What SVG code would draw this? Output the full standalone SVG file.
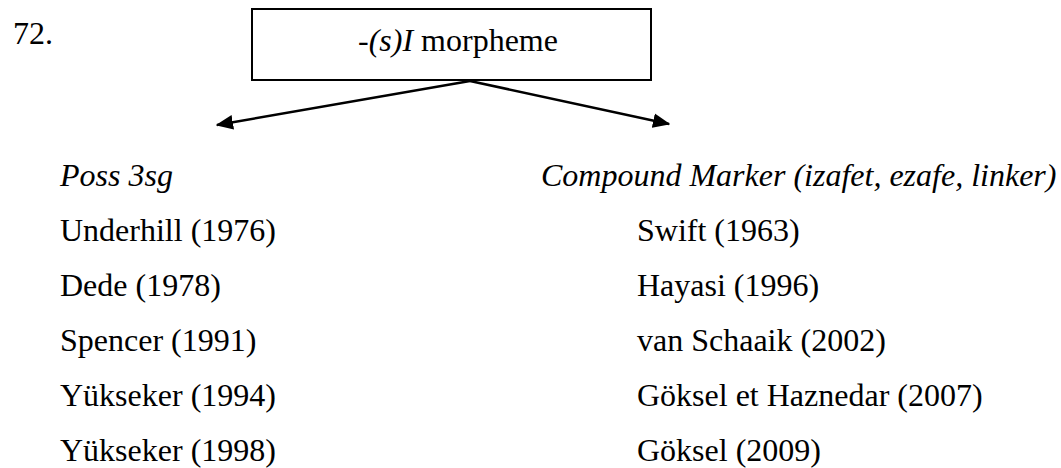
<svg xmlns="http://www.w3.org/2000/svg" width="1061" height="468" viewBox="0 0 1061 468">
  <style>
    text { font-family: "Liberation Serif", "Times New Roman", serif; font-size: 32px; fill: #000; }
    .it { font-style: italic; }
    .box { fill: #fff; stroke: #000; stroke-width: 2; }
    .edge { stroke: #000; stroke-width: 2.5; fill: none; marker-end: url(#head); }
  </style>
  <defs>
    <marker id="head" viewBox="0 0 12 10" refX="11" refY="5" markerWidth="7" markerHeight="6" orient="auto" markerUnits="strokeWidth">
      <path d="M0,0 L12,5 L0,10 z" fill="#000"/>
    </marker>
  </defs>
  <rect width="1061" height="468" fill="#fff"/>

  <text id="num" x="13" y="44">72.</text>

  <g id="root">
    <rect class="box" x="252" y="9" width="399" height="71"/>
    <text x="358" y="51"><tspan class="it">-(s)I</tspan> morpheme</text>
  </g>

  <g id="connectors">
    <line class="edge" x1="470" y1="81" x2="217" y2="125"/>
    <line class="edge" x1="470" y1="81" x2="669" y2="124"/>
  </g>

  <g id="poss">
    <text class="it" x="60" y="186">Poss 3sg</text>
    <text x="60" y="241">Underhill (1976)</text>
    <text x="60" y="296">Dede (1978)</text>
    <text x="60" y="351">Spencer (1991)</text>
    <text x="60" y="406">Yükseker (1994)</text>
    <text x="60" y="461">Yükseker (1998)</text>
  </g>

  <g id="compound">
    <text class="it" x="541" y="186">Compound Marker (izafet, ezafe, linker)</text>
    <text x="637" y="241">Swift (1963)</text>
    <text x="637" y="296">Hayasi (1996)</text>
    <text x="637" y="351">van Schaaik (2002)</text>
    <text x="637" y="406">Göksel et Haznedar (2007)</text>
    <text x="637" y="461">Göksel (2009)</text>
  </g>
</svg>
